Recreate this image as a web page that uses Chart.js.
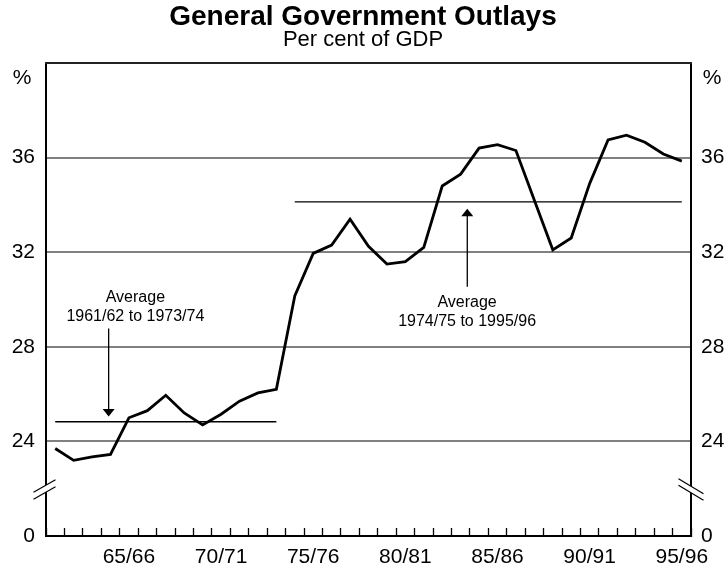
<!DOCTYPE html>
<html>
<head>
<meta charset="utf-8">
<script src="https://cdn.jsdelivr.net/npm/chart.js@4.4.0/dist/chart.umd.min.js"></script>
<style>
  html, body { margin: 0; padding: 0; background: #fff; }
</style>
</head>
<body>
<canvas id="outlays" width="726" height="568"></canvas>
<script>
// financial years 1961/62 .. 1995/96
const years = [
    '61/62', '62/63', '63/64', '64/65', '65/66', '66/67', '67/68', '68/69', '69/70', '70/71',
    '71/72', '72/73', '73/74', '74/75', '75/76', '76/77', '77/78', '78/79', '79/80', '80/81',
    '81/82', '82/83', '83/84', '84/85', '85/86', '86/87', '87/88', '88/89', '89/90', '90/91',
    '91/92', '92/93', '93/94', '94/95', '95/96'
];
// general government outlays, per cent of GDP
const outlays = [
    23.7, 23.2, 23.35, 23.45, 25.0, 25.3, 25.95, 25.2, 24.7, 25.15,
    25.7, 26.05, 26.2, 30.15, 31.95, 32.3, 33.4, 32.25, 31.5, 31.6,
    32.2, 34.8, 35.3, 36.4, 36.55, 36.3, 34.2, 32.1, 32.6, 34.9,
    36.75, 36.95, 36.65, 36.15, 35.85
];
// period averages
const avgEarly = [{ x: '61/62', y: 24.83 }, { x: '73/74', y: 24.83 }];
const avgLate = [{ x: '74/75', y: 34.13 }, { x: '95/96', y: 34.13 }];
// labelled years on the x axis
const tickYears = ['65/66', '70/71', '75/76', '80/81', '85/86', '90/91', '95/96'];
// y axis is broken: the bottom (20) is shown as 0
const yMin = 20, yMax = 40, yStep = 4;

const FONT = '"Liberation Sans", Arial, Helvetica, sans-serif';

function yLabel(v) {
    if (v === yMin) return '0';
    if (v === yMax) return '';
    return v;
}

// ==============================================================
// extras: heading, frame top, axis breaks, average notes
// ==============================================================
const extras = {
    id: 'extras',
    afterDraw(chart) {
        const ctx = chart.ctx;
        const area = chart.chartArea;
        const xs = chart.scales.x;
        const ys = chart.scales.y;
        ctx.save();

        // heading
        ctx.fillStyle = '#000';
        ctx.textAlign = 'center';
        ctx.textBaseline = 'alphabetic';
        ctx.font = 'bold 28px ' + FONT;
        ctx.fillText('General Government Outlays', 363, 25);
        ctx.font = '22px ' + FONT;
        ctx.fillText('Per cent of GDP', 363, 46);
        ctx.font = '21px ' + FONT;
        ctx.fillText('%', 22, 84);
        ctx.fillText('%', 712, 84);

        // top of frame
        ctx.strokeStyle = '#222';
        ctx.lineWidth = 2;
        ctx.beginPath();
        ctx.moveTo(area.left - 1, area.top);
        ctx.lineTo(area.right + 1, area.top);
        ctx.stroke();

        // axis breaks
        const yb = ys.getPixelForValue(22);
        function brk(x, a, b) {
            ctx.fillStyle = '#fff';
            ctx.beginPath();
            ctx.moveTo(x + a[0], yb + a[1]);
            ctx.lineTo(x + a[2], yb + a[3]);
            ctx.lineTo(x + b[2], yb + b[3]);
            ctx.lineTo(x + b[0], yb + b[1]);
            ctx.closePath();
            ctx.fill();
            ctx.strokeStyle = '#000';
            ctx.lineWidth = 1.2;
            [a, b].forEach(function (l) {
                ctx.beginPath();
                ctx.moveTo(x + l[0], yb + l[1]);
                ctx.lineTo(x + l[2], yb + l[3]);
                ctx.stroke();
            });
        }
        brk(area.left, [-12.5, 3.5, 9.5, -9], [-12.5, 10.5, 9.5, -2]);
        brk(area.right, [-12.5, -10, 12.5, 5], [-12.5, -3.5, 12.5, 11.5]);

        // average notes
        function arrow(xi, fromV, tipV) {
            const x = xs.getPixelForValue(xi);
            const y0 = ys.getPixelForValue(fromV);
            const y1 = ys.getPixelForValue(tipV);
            const dir = y1 > y0 ? 1 : -1;
            ctx.strokeStyle = '#000';
            ctx.lineWidth = 1.3;
            ctx.beginPath();
            ctx.moveTo(x, y0);
            ctx.lineTo(x, y1 - dir * 6);
            ctx.stroke();
            ctx.fillStyle = '#000';
            ctx.beginPath();
            ctx.moveTo(x, y1);
            ctx.lineTo(x - 6, y1 - dir * 7.5);
            ctx.lineTo(x + 6, y1 - dir * 7.5);
            ctx.closePath();
            ctx.fill();
        }
        function note(xi, v1, v2, l1, l2) {
            const x = xs.getPixelForValue(xi);
            ctx.fillStyle = '#000';
            ctx.font = '16px ' + FONT;
            ctx.textAlign = 'center';
            ctx.textBaseline = 'middle';
            ctx.fillText(l1, x, ys.getPixelForValue(v1));
            ctx.fillText(l2, x, ys.getPixelForValue(v2));
        }
        arrow(2.9, 28.77, 25.05);
        note(4.35, 30.07, 29.29, 'Average', '1961/62 to 1973/74');
        arrow(22.36, 30.54, 33.84);
        note(22.35, 29.86, 29.06, 'Average', '1974/75 to 1995/96');

        ctx.restore();
    }
};

new Chart(document.getElementById('outlays').getContext('2d'), {
    type: 'line',
    data: {
        labels: years,
        datasets: [{
            label: 'Outlays',
            data: outlays,
            borderColor: '#000',
            borderWidth: 2.8,
            pointRadius: 0,
            tension: 0,
            fill: false
        }, {
            label: 'Average 1961/62 to 1973/74',
            data: avgEarly,
            borderColor: '#000',
            borderWidth: 1.3,
            pointRadius: 0,
            fill: false
        }, {
            label: 'Average 1974/75 to 1995/96',
            data: avgLate,
            borderColor: '#000',
            borderWidth: 1.3,
            pointRadius: 0,
            fill: false
        }]
    },
    options: {
        responsive: false,
        animation: false,
        layout: {
            padding: { top: 63, left: 0, right: 0, bottom: 0 }
        },
        plugins: {
            legend: { display: false },
            tooltip: { enabled: false },
            title: { display: false }
        },
        scales: {
            x: {
                type: 'category',
                offset: true,
                grid: {
                    offset: true,
                    drawOnChartArea: false,
                    drawTicks: true,
                    tickLength: -8,
                    tickColor: '#000',
                    tickWidth: 1.3
                },
                border: { display: true, color: '#000', width: 2 },
                ticks: {
                    autoSkip: false,
                    maxRotation: 0,
                    padding: 17,
                    color: '#000',
                    font: { family: FONT, size: 21 },
                    callback: function (v) {
                        const l = this.getLabelForValue(v);
                        return tickYears.includes(l) ? l : '';
                    }
                },
                afterFit: function (s) { s.height = 32; }
            },
            y: {
                position: 'left',
                min: yMin,
                max: yMax,
                grid: {
                    color: function (c) {
                        return (c.tick.value === yMin || c.tick.value === yMax) ? 'rgba(0,0,0,0)' : '#808080';
                    },
                    lineWidth: 2,
                    drawTicks: false
                },
                border: { color: '#000', width: 2 },
                ticks: {
                    stepSize: yStep,
                    padding: 11,
                    color: '#000',
                    font: { family: FONT, size: 21 },
                    callback: yLabel
                },
                afterFit: function (s) { s.width = 46; }
            },
            y2: {
                position: 'right',
                min: yMin,
                max: yMax,
                grid: { drawOnChartArea: false, drawTicks: false },
                border: { color: '#000', width: 2 },
                ticks: {
                    stepSize: yStep,
                    padding: 10,
                    color: '#000',
                    font: { family: FONT, size: 21 },
                    callback: yLabel
                },
                afterFit: function (s) { s.width = 35; }
            }
        }
    },
    plugins: [extras]
});
</script>
</body>
</html>
